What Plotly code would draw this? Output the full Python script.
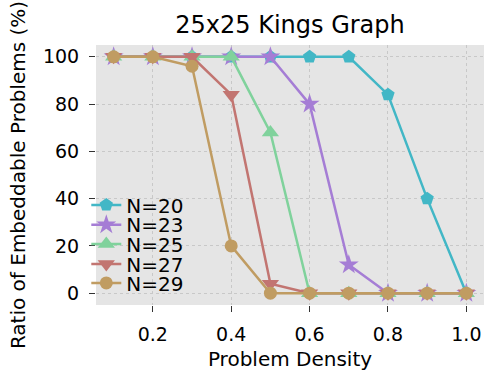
import plotly.graph_objects as go

density = [0.1, 0.2, 0.3, 0.4, 0.5, 0.6, 0.7, 0.8, 0.9, 1.0]
n20 = [100, 100, 100, 100, 100, 100, 100, 84, 40, 0]
n23 = [100, 100, 100, 100, 100, 80, 12, 0, 0, 0]
n25 = [100, 100, 100, 100, 68, 0, 0, 0, 0, 0]
n27 = [100, 100, 100, 84, 4, 0, 0, 0, 0, 0]
n29 = [100, 100, 96, 20, 0, 0, 0, 0, 0, 0]

series = [
    ("N=20", n20, "#42b7c6", "pentagon", 14),
    ("N=23", n23, "#a57dd5", "star", 15),
    ("N=25", n25, "#80d29c", "triangle-up", 15),
    ("N=27", n27, "#c27571", "triangle-down", 15),
    ("N=29", n29, "#c09c62", "circle", 13),
]

# one small legend per series so the rows can sit as tight as the original
legend_rows = [0.385, 0.309, 0.235, 0.158, 0.085]

fig = go.Figure()
legends = {}
for i, (name, vals, color, sym, size) in enumerate(series):
    key = "legend" if i == 0 else f"legend{i + 1}"
    fig.add_trace(go.Scatter(
        x=density, y=vals, name=name, mode="lines+markers",
        line=dict(color=color, width=2.5),
        marker=dict(symbol=sym, size=size, color=color),
        legend=key,
    ))
    legends[key] = dict(x=-0.025, y=legend_rows[i], xanchor="left", yanchor="middle",
                        bgcolor="rgba(0,0,0,0)", font=dict(size=20),
                        itemwidth=30)

axis_common = dict(
    showline=False, zeroline=False, automargin=False,
    showgrid=True, gridcolor="#c8c8c8", griddash="dot", gridwidth=1,
    ticks="outside", ticklen=6, tickcolor="#333", tickwidth=1,
    tickfont=dict(size=19, color="black"),
)

fig.update_layout(
    width=499, height=382,
    margin=dict(l=96, r=15, t=45, b=77),
    paper_bgcolor="white", plot_bgcolor="#e5e5e5",
    font=dict(family="DejaVu Sans", color="black"),
    title=dict(text="25x25 Kings Graph", xref="paper", x=0.5, xanchor="center",
               yref="container", y=0.935, yanchor="middle", font=dict(size=24)),
    showlegend=True,
    **legends,
)
fig.update_xaxes(range=[0.055, 1.045], tickvals=[0.2, 0.4, 0.6, 0.8, 1.0],
                 ticktext=["0.2", "0.4", "0.6", "0.8", "1.0"], ticklabelstandoff=6,
                 title=dict(text="Problem Density", font=dict(size=20), standoff=8),
                 **axis_common)
fig.update_yaxes(range=[-5, 105], tickvals=[0, 20, 40, 60, 80, 100], ticklabelstandoff=6,
                 title=dict(text="Ratio of Embeddable Problems (%)", font=dict(size=20), standoff=11),
                 **axis_common)

fig.write_html("out.html", config={"displayModeBar": False},
               post_script="document.body.style.margin='0';")
